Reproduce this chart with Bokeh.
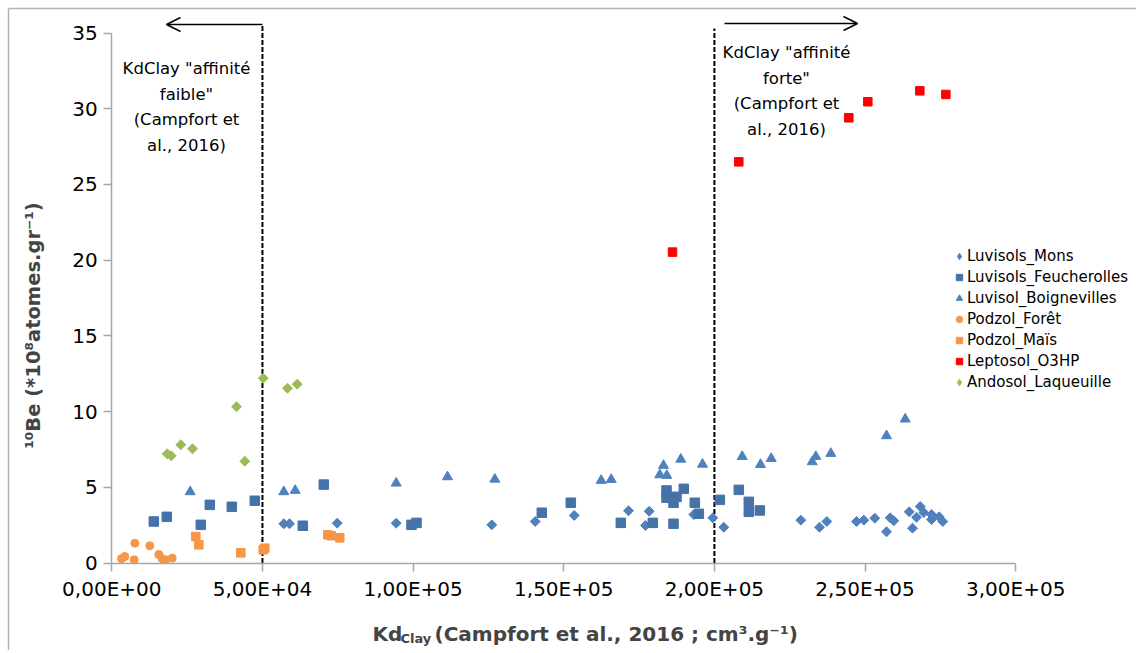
import math
from bokeh.plotting import figure
from bokeh.models import Range1d, FixedTicker, Legend, LegendItem, Label, Arrow, OpenHead
from bokeh.core.properties import value
from bokeh.embed import file_html
from bokeh.resources import INLINE

# ---------------- data ----------------
mons_x = [57090, 58980, 74810, 94390, 126120, 140530, 153470, 171490, 178360, 177130,
          193170, 199470, 203120, 228680, 234890, 237310, 247170, 249590, 253240, 257120,
          258350, 259550, 264660, 265750, 267080, 268310, 269500, 272060, 272060, 274610, 275810]
mons_y = [2.59, 2.59, 2.63, 2.63, 2.52, 2.74, 3.14, 3.45, 3.42, 2.48,
          3.20, 2.98, 2.36, 2.83, 2.36, 2.74, 2.74, 2.83, 2.96, 2.06,
          2.98, 2.79, 3.38, 2.30, 3.02, 3.73, 3.33, 3.20, 2.87, 3.05, 2.74]

feuch_x = [13940, 18250, 29540, 32530, 39830, 47460, 63390, 70360, 99470, 101130,
           142720, 152340, 168940, 179560, 184110, 184110, 187420, 186430, 189850, 186430,
           193500, 194830, 201800, 208100, 211420, 211420, 215070]
feuch_y = [2.74, 3.05, 2.52, 3.84, 3.71, 4.11, 2.46, 5.18, 2.52, 2.65,
           3.32, 3.98, 2.65, 2.65, 4.79, 4.31, 4.37, 3.98, 4.90, 2.59,
           3.98, 3.25, 4.17, 4.83, 4.04, 3.38, 3.47]

boign_x = [26020, 57090, 60870, 94390, 111420, 127120, 162430, 165750, 181880, 183110,
           184200, 188850, 196050, 209230, 215300, 218850, 232460, 233660, 238640, 257120, 263330]
boign_y = [4.70, 4.70, 4.79, 5.27, 5.69, 5.53, 5.45, 5.51, 5.82, 6.44,
           5.78, 6.85, 6.52, 7.03, 6.50, 6.90, 6.68, 7.03, 7.23, 8.40, 9.50]

foret_x = [3220, 4310, 7630, 7430, 12610, 15600, 16730, 17820, 20050]
foret_y = [0.28, 0.43, 1.31, 0.21, 1.14, 0.56, 0.28, 0.21, 0.32]

mais_x = [27880, 28880, 42820, 50780, 50250, 71690, 72820, 75670]
mais_y = [1.75, 1.20, 0.67, 0.98, 0.87, 1.86, 1.80, 1.66]

lepto_x = [186100, 208100, 244610, 250920, 268180, 276810]
lepto_y = [20.53, 26.49, 29.40, 30.46, 31.18, 30.94]

ando_x = [18390, 19710, 22900, 26780, 44140, 41390, 50250, 58320, 61530]
ando_y = [7.21, 7.08, 7.81, 7.54, 6.72, 10.32, 12.20, 11.54, 11.81]

series_names = ["Luvisols_Mons", "Luvisols_Feucherolles", "Luvisol_Boignevilles",
                "Podzol_Forêt", "Podzol_Maïs", "Leptosol_O3HP", "Andosol_Laqueuille"]

x_ticks = [0, 50000, 100000, 150000, 200000, 250000, 300000]
x_tick_labels = ["0,00E+00", "5,00E+04", "1,00E+05", "1,50E+05", "2,00E+05", "2,50E+05", "3,00E+05"]
y_ticks = [0, 5, 10, 15, 20, 25, 30, 35]
y_tick_labels = ["0", "5", "10", "15", "20", "25", "30", "35"]

kd_low = 50000
kd_high = 200000
left_lines = ['KdClay "affinité', 'faible"', '(Campfort et', 'al., 2016)']
right_lines = ['KdClay "affinité', 'forte"', '(Campfort et', 'al., 2016)']
x_title_main = "Kd"
x_title_sub = "Clay"
x_title_rest = "(Campfort et al., 2016 ; cm³.g⁻¹)"
y_title = "¹⁰Be (*10⁸atomes.gr⁻¹)"

# ---------------- geometry (page pixels) ----------------
W, H = 1136, 650
X0PX, X1PX = 111.3, 1015.2      # where 0 and 3e5 sit
Y0PX, Y35PX = 562.5, 32.5       # where 0 and 35 sit
XMAX, YTOP = 300000, 35
kx = (X1PX - X0PX) / XMAX
ky = (Y0PX - Y35PX) / YTOP
x_range = Range1d(-X0PX / kx, (W - X0PX) / kx)
y_range = Range1d(-(H - Y0PX) / ky, Y0PX / ky)

def dx(px):
    return (px - X0PX) / kx

def dy(py):
    return (Y0PX - py) / ky

FONT = "DejaVu Sans"
AX = "#a6a6a6"

p = figure(width=W, height=H, x_range=x_range, y_range=y_range,
           output_backend="svg", toolbar_location=None, title=None, min_border=0)
p.outline_line_color = None
p.xgrid.grid_line_color = None
p.ygrid.grid_line_color = None
p.background_fill_color = "white"
p.border_fill_color = "white"

for ax in (p.xaxis[0], p.yaxis[0]):
    ax.fixed_location = 0
    ax.axis_line_color = AX
    ax.axis_line_width = 1.5
    ax.major_tick_line_color = AX
    ax.major_tick_line_width = 1.5
    ax.major_tick_out = 8
    ax.major_tick_in = 0
    ax.minor_tick_out = 0
    ax.minor_tick_in = 0
    ax.major_label_text_font = FONT
    ax.major_label_text_font_size = "20px"
    ax.major_label_text_color = "black"

p.xaxis.ticker = FixedTicker(ticks=x_ticks)
p.xaxis.major_label_overrides = {t: l for t, l in zip(x_ticks, x_tick_labels)}
p.xaxis.bounds = (0, XMAX)
p.xaxis.major_label_standoff = 6
p.yaxis.ticker = FixedTicker(ticks=y_ticks)
p.yaxis.major_label_overrides = {t: l for t, l in zip(y_ticks, y_tick_labels)}
p.yaxis.bounds = (0, YTOP)
p.yaxis.major_label_standoff = 6

# chart-area border (top and left)
p.segment(x0=[dx(8), dx(8)], y0=[dy(8), dy(8)], x1=[dx(W), dx(8)], y1=[dy(8), dy(H)],
          line_color="#b4b4b4", line_width=1.5)

# threshold dashed lines and arrows
p.segment(x0=[kd_low], y0=[0], x1=[kd_low], y1=[dy(24)], line_color="black",
          line_width=2, line_dash="5 2")
p.segment(x0=[kd_high], y0=[0], x1=[kd_high], y1=[dy(28)], line_color="black",
          line_width=2, line_dash="5 2")
p.add_layout(Arrow(end=OpenHead(size=14, line_width=1.5, line_color="black"),
                   x_start=kd_low, y_start=dy(24), x_end=dx(166), y_end=dy(24),
                   line_width=1.5, line_color="black"))
p.add_layout(Arrow(end=OpenHead(size=14, line_width=1.5, line_color="black"),
                   x_start=dx(724), y_start=dy(23), x_end=dx(857), y_end=dy(23),
                   line_width=1.5, line_color="black"))

LS = 25.7
p.text(x=[dx(186)] * 4, y=[dy(68 + i * LS) for i in range(4)], text=left_lines,
       text_align="center", text_baseline="middle", text_font=value(FONT),
       text_font_size="16.5px", text_color="black")
p.text(x=[dx(786)] * 4, y=[dy(52 + i * LS) for i in range(4)], text=right_lines,
       text_align="center", text_baseline="middle", text_font=value(FONT),
       text_font_size="16.5px", text_color="black")

# data series
rot = math.pi / 4
C_MONS, C_FEU, C_BOI = "#4f81bd", "#4572a7", "#4f81bd"
C_OR, C_RED, C_GR = "#f79646", "#ff0000", "#9bbb59"
r1 = p.scatter(mons_x, mons_y, marker="square", angle=rot, size=7,
               fill_color=C_MONS, line_color=C_MONS)
r2 = p.scatter(feuch_x, feuch_y, marker="square", size=9.5,
               fill_color=C_FEU, line_color=C_FEU)
r3 = p.scatter(boign_x, boign_y, marker="triangle", size=10,
               fill_color=C_BOI, line_color=C_BOI)
r4 = p.scatter(foret_x, foret_y, marker="circle", size=8,
               fill_color=C_OR, line_color=C_OR)
r5 = p.scatter(mais_x, mais_y, marker="square", size=8.5,
               fill_color=C_OR, line_color=C_OR)
r6 = p.scatter(lepto_x, lepto_y, marker="square", size=8.5,
               fill_color=C_RED, line_color=C_RED)
r7 = p.scatter(ando_x, ando_y, marker="square", angle=rot, size=7,
               fill_color=C_GR, line_color=C_GR)

# legend-only diamond glyphs (the legend ignores marker rotation); NaN = nothing plotted
nan = float("nan")
l1 = p.scatter([nan], [nan], marker="diamond", size=9, fill_color=C_MONS, line_color=C_MONS)
l7 = p.scatter([nan], [nan], marker="diamond", size=9, fill_color=C_GR, line_color=C_GR)

legend_renderers = [[l1], [r2], [r3], [r4], [r5], [r6], [l7]]
legend = Legend(items=[LegendItem(label=n, renderers=rs)
                       for n, rs in zip(series_names, legend_renderers)],
                location=(951, int(H - (244.5 + 7 * 21))))
legend.label_text_font = FONT
legend.label_text_font_size = "15px"
legend.label_text_color = "black"
legend.glyph_width = 16
legend.glyph_height = 16
legend.label_height = 21
legend.label_standoff = 0
legend.spacing = 0
legend.padding = 0
legend.margin = 0
legend.border_line_color = None
legend.background_fill_alpha = 0
p.add_layout(legend)

# axis titles
TF = "20px"
p.add_layout(Label(x=dx(372), y=dy(633), text=x_title_main, text_font=FONT, text_font_size=TF,
                   text_font_style="bold", text_align="left", text_baseline="alphabetic"))
p.add_layout(Label(x=dx(400), y=dy(638), text=x_title_sub, text_font=FONT, text_font_size="13px",
                   text_font_style="bold", text_align="left", text_baseline="alphabetic"))
p.add_layout(Label(x=dx(434), y=dy(633), text=x_title_rest,
                   text_font=FONT, text_font_size=TF, text_font_style="bold",
                   text_align="left", text_baseline="alphabetic"))
p.add_layout(Label(x=dx(33), y=dy(325), text=y_title, angle=math.pi / 2,
                   text_font=FONT, text_font_size="19.5px", text_font_style="bold",
                   text_align="center", text_baseline="middle"))

open("out.html", "w").write(file_html(p, INLINE))
